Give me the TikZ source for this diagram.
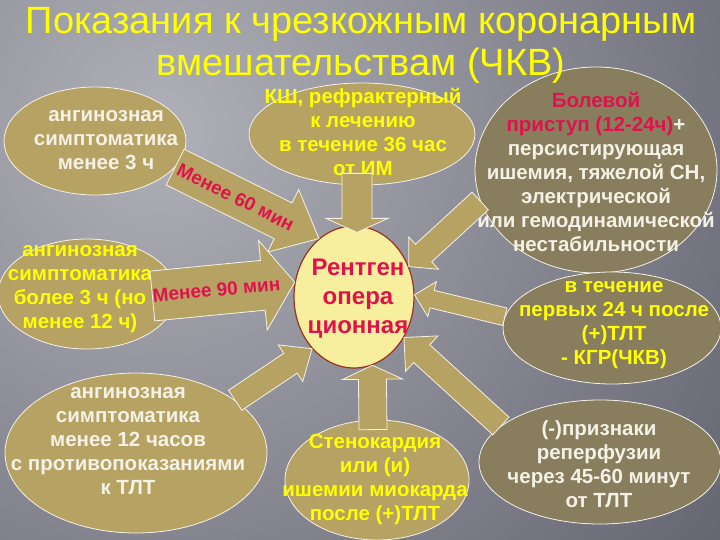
\documentclass[tikz,border=0pt]{standalone}
\usepackage{fontspec}
\setmainfont{Liberation Sans}
\usetikzlibrary{calc, shapes.geometric}

\definecolor{khaki}{HTML}{B6A263}
\definecolor{olivegray}{HTML}{887D5D}
\definecolor{xrayfill}{HTML}{F8EF9E}
\definecolor{xrayline}{HTML}{A0301C}
\definecolor{crimson}{HTML}{E0124C}
\definecolor{lighttext}{HTML}{F4F2E6}
\definecolor{hiyellow}{HTML}{FFFF00}
\definecolor{bglight}{HTML}{B0B0B8}
\definecolor{bgdark}{HTML}{454555}

% block arrow: start, tip, half shaft, half head, head length
\newcommand{\blockarrow}[5]{%
  \coordinate (ba-base) at ($(#2)!#5!(#1)$);
  \draw[block arrow] ($(#1)!#3!90:(#2)$) -- ($(ba-base)!#3!-90:(#1)$)
    -- ($(ba-base)!#4!-90:(#1)$) -- (#2) -- ($(ba-base)!#4!90:(#1)$)
    -- ($(ba-base)!#3!90:(#1)$) -- ($(#1)!#3!-90:(#2)$) -- cycle;
}

\begin{document}
\begin{tikzpicture}[
x=1pt, y=-1pt,
bubble/.style = {ellipse, draw=lighttext, line width=0.8pt, fill=khaki, inner sep=0pt},
dim bubble/.style = {bubble, fill=olivegray},
white text/.style = {align=center, text=lighttext, font=\bfseries\fontsize{20.5}{24}\selectfont},
yellow text/.style = {white text, text=hiyellow},
block arrow/.style = {fill=khaki, draw=lighttext, line width=0.8pt},
arrow text/.style = {text=crimson, font=\bfseries\fontsize{19}{20}\selectfont},
]

\useasboundingbox (0,0) rectangle (720,540);
\begin{scope}
  \clip (0,0) rectangle (720,540);
  \shade[inner color=bglight, outer color=bgdark] (160,130) circle (1000);
\end{scope}

% indications
\node[bubble, minimum width=182pt, minimum height=108pt] (early) at (95,141) {};
\node[white text] (early text) at (106,140) {ангинозная\\симптоматика\\менее 3 ч};

\node[bubble, minimum width=226pt, minimum height=102pt] (cabg) at (362,134) {};
\node[yellow text] (cabg text) at (363,132) {КШ, рефрактерный\\к лечению\\в течение 36 час\\от ИМ};

\node[dim bubble, minimum width=242pt, minimum height=206pt] (pain) at (596,170) {};
\node[white text] (pain text) at (596,172)
  {\textcolor{crimson}{Болевой}\\\textcolor{crimson}{приступ (12-24ч)}+\\персистирующая\\ишемия, тяжелой СН,\\электрической\\или гемодинамической\\нестабильности};

\node[bubble, minimum width=178pt, minimum height=110pt] (late) at (87,294) {};
\node[yellow text] (late text) at (80,289) {ангинозная\\симптоматика\\более 3 ч (но\\менее 12 ч)};

\node[dim bubble, minimum width=218pt, minimum height=112pt] (after) at (612,328) {};
\node[yellow text] (after text) at (614,325) {в течение\\первых 24 ч после\\(+)ТЛТ\\- КГР(ЧКВ)};

\node[bubble, minimum width=262pt, minimum height=160pt] (contra) at (136,453) {};
\node[white text] (contra text) at (128,441)
  {ангинозная\\симптоматика\\менее 12 часов\\с противопоказаниями\\к ТЛТ};

\node[bubble, minimum width=184pt, minimum height=120pt] (angina) at (377,480) {};
\node[yellow text] (angina text) at (375,479) {Стенокардия\\или (и)\\ишемии миокарда\\после (+)ТЛТ};

\node[dim bubble, minimum width=242pt, minimum height=124pt] (noreperf) at (600,462) {};
\node[white text] (noreperf text) at (599,464) {(-)признаки\\реперфузии\\через 45-60 минут\\от ТЛТ};

% target
\node[ellipse, draw=xrayline, line width=1.2pt, fill=xrayfill, inner sep=0pt,
  minimum width=120pt, minimum height=142pt] (xray) at (354,297) {};
\node[yellow text, text=crimson, font=\bfseries\fontsize{24}{29}\selectfont] (xray text) at (358,299)
  {Рентген\\опера\\ционная};

% arrows into the target
\coordinate (late start) at ([xshift=-24pt,yshift=-2pt]late.east);
\coordinate (cabg start) at ($(cabg.south -| xray.north)+(3,-12)$);
\coordinate (cabg tip) at ($(xray.north)+(3,7)$);
\coordinate (angina start) at ($(angina.north)+(-4,10)$);

\blockarrow{early.-18}{xray.121}{20pt}{35pt}{40pt}
\blockarrow{late start}{xray.166}{25pt}{45pt}{32pt}
\blockarrow{cabg start}{cabg tip}{15pt}{31pt}{14pt}
\blockarrow{pain.195}{xray.29}{12pt}{22pt}{20pt}
\blockarrow{after.174}{xray.2}{9pt}{18pt}{18pt}
\blockarrow{noreperf.160}{xray.-39}{12pt}{24pt}{24pt}
\blockarrow{angina start}{xray.-75}{14pt}{30pt}{14pt}
\blockarrow{contra.28}{xray.231}{12pt}{22pt}{26pt}

\path (early.-18) -- (xray.121) node[pos=0.42, sloped, arrow text] (sixty) {Менее 60 мин};
\path (late start) -- (xray.166) node[pos=0.45, sloped, arrow text] (ninety) {Менее 90 мин};

\node[yellow text, font=\fontsize{38}{42}\selectfont] (title) at (361,45)
  {Показания к чрезкожным коронарным\\вмешательствам (ЧКВ)};

\end{tikzpicture}
\end{document}
